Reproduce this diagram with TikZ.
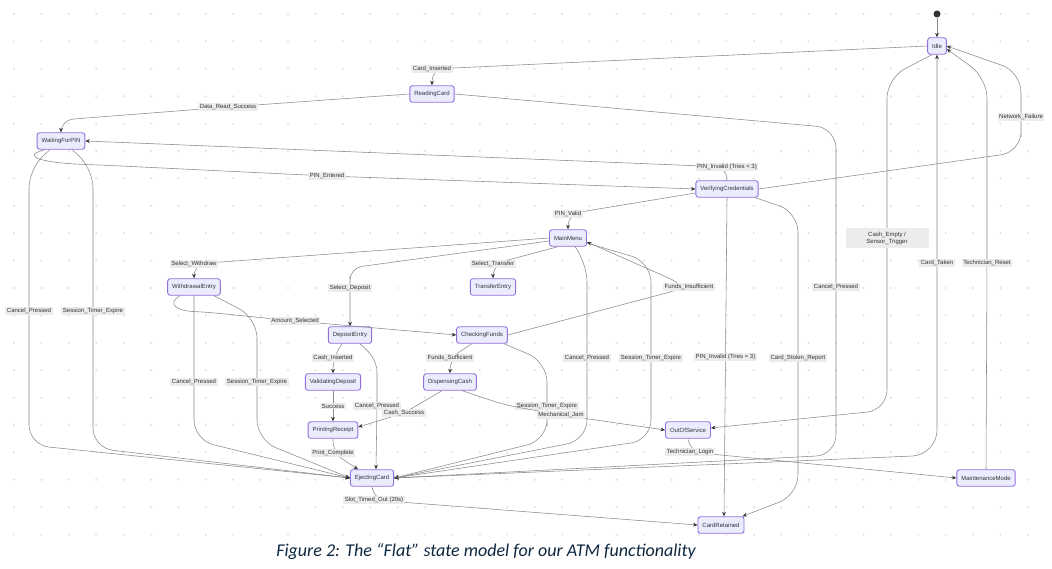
\documentclass[tikz,border=0pt]{standalone}
\usepackage{fontspec}
\setmainfont{Liberation Sans}
\newfontfamily\captionfont{Carlito}
\usepackage{tikz}
\usetikzlibrary{arrows.meta,positioning}
\usepackage{xcolor}
\definecolor{stateFill}{HTML}{ECECFF}
\definecolor{stateLine}{HTML}{9370DB}
\definecolor{edgeGrey}{HTML}{8A8A8A}
\definecolor{inkDark}{HTML}{333333}
\definecolor{lblGrey}{HTML}{ECECEC}
\definecolor{dotGrey}{HTML}{DDDDDD}
\definecolor{captionBlue}{HTML}{0E2841}

\begin{document}
\begin{tikzpicture}[
  x=1pt, y=-1pt,
  stateBox/.style={draw=stateLine, fill=stateFill, rounded corners=2.5pt, line width=0.9pt, minimum height=16.5pt, inner xsep=4.5pt, inner ysep=0pt, font=\fontsize{6}{7}\selectfont, text=inkDark},
  lbl/.style={fill=lblGrey, sharp corners, inner xsep=1.5pt, inner ysep=1.2pt, font=\fontsize{6}{7}\selectfont, text=inkDark, align=center},
  arr/.style={-{Stealth[length=4.5pt,width=3.8pt,color=inkDark]}, draw=edgeGrey, line width=0.55pt, rounded corners=12pt}
]
\useasboundingbox (0,0) rectangle (1052,569);
\fill[white] (0,0) rectangle (1052,569);
\foreach \i in {0,...,37}
  \foreach \j in {0,...,19}
    \fill[dotGrey] ({14+27.4*\i},{14+27.4*\j}) circle (1.1pt);

\node[circle, fill=inkDark, inner sep=0pt, minimum size=7pt] (start) at (937,14) {};
\node[stateBox] (idle) at (937,46) {Idle};
\node[stateBox] (readingCard) at (432,94) {ReadingCard};
\node[stateBox] (waitingPin) at (61,141) {WaitingForPIN};
\node[stateBox] (verifyCred) at (727,189) {VerifyingCredentials};
\node[stateBox] (mainMenu) at (568,238) {MainMenu};
\node[stateBox] (withdrawEntry) at (194,287) {WithdrawalEntry};
\node[stateBox] (transferEntry) at (493,287) {TransferEntry};
\node[stateBox] (depositEntry) at (350,335) {DepositEntry};
\node[stateBox] (checkFunds) at (482,335) {CheckingFunds};
\node[stateBox] (validDeposit) at (333,382) {ValidatingDeposit};
\node[stateBox] (dispenseCash) at (450,382) {DispensingCash};
\node[stateBox] (printReceipt) at (333,430) {PrintingReceipt};
\node[stateBox] (ejectCard) at (372,478) {EjectingCard};
\node[stateBox] (outOfService) at (688,430) {OutOfService};
\node[stateBox] (maintMode) at (986,478) {MaintenanceMode};
\node[stateBox] (cardRetained) at (721,525) {CardRetained};

\draw[arr] (start) -- (idle);
\draw[arr] (idle.west) -- (432,69) node[lbl]{Card\_Inserted} -- (readingCard.north);
\draw[arr] (readingCard.west) -- (228,107) node[lbl]{Data\_Read\_Success} -- (61,120) -- (waitingPin.north);
\draw[arr, rounded corners=20pt] (readingCard.east) -- (836,128) -- (836,287) node[lbl]{Cancel\_Pressed} -- (836,455) -- (ejectCard.east);
\draw[arr] ([xshift=-16pt]waitingPin.south) .. controls (20,156) and (40,163) .. (100,165) -- (327,176) node[lbl]{PIN\_Entered} -- (verifyCred.west);
\draw[arr] (verifyCred.north) -- (727,167) node[lbl]{PIN\_Invalid (Tries < 3)} -- (waitingPin.east);
\draw[arr, rounded corners=20pt] ([xshift=-11pt]waitingPin.south) -- (29,168) -- (29,311) node[lbl]{Cancel\_Pressed} -- (29,445) -- (ejectCard.west);
\draw[arr, rounded corners=20pt] ([xshift=11pt]waitingPin.south) -- (93,168) -- (93,311) node[lbl]{Session\_Timer\_Expire} -- (93,448) -- (ejectCard.west);
\draw[arr] ([yshift=-4pt]verifyCred.west) -- (568,214) node[lbl]{PIN\_Valid} -- (mainMenu.north);
\draw[arr] (verifyCred.south) -- node[lbl]{PIN\_Invalid (Tries = 3)} ([xshift=3pt]cardRetained.north);
\draw[arr, rounded corners=20pt] ([xshift=28pt]verifyCred.south) -- (798,212) -- (798,358) node[lbl]{Card\_Stolen\_Report} -- (798,495) -- ([xshift=-2pt]cardRetained.north east);
\draw[arr, rounded corners=20pt] (verifyCred.east) -- (1021,152) -- (1021,117) node[lbl]{Network\_Failure} -- (1021,72) -- (idle.east);
\draw[arr] (mainMenu.west) -- (194,264) node[lbl]{Select\_Withdraw} -- (withdrawEntry.north);
\draw[arr] ([yshift=-3pt]mainMenu.west) -- (350,268) -- (350,288) node[lbl]{Select\_Deposit} -- (depositEntry.north);
\draw[arr] ([xshift=-10pt]mainMenu.south) -- (493,264) node[lbl]{Select\_Transfer} -- (transferEntry.north);
\draw[arr, rounded corners=20pt] ([xshift=7pt]mainMenu.south) -- (587,262) -- (587,358) node[lbl]{Cancel\_Pressed} -- (587,440) -- (ejectCard.east);
\draw[arr, rounded corners=20pt] ([yshift=-5pt]mainMenu.east) -- (651,262) -- (651,358) node[lbl]{Session\_Timer\_Expire} -- (651,440) -- (ejectCard.east);
\draw[arr, rounded corners=20pt] (checkFunds.east) -- (689,287) node[lbl]{Funds\_Insufficient} -- ([yshift=-4pt]mainMenu.east);
\draw[arr] ([xshift=-14pt]withdrawEntry.south) .. controls (165,305) and (180,311) .. (205,312) -- (295,321) node[lbl]{Amount\_Selected} -- (checkFunds.west);
\draw[arr, rounded corners=20pt] (withdrawEntry.south) -- (194,382) node[lbl]{Cancel\_Pressed} -- (194,440) -- (ejectCard.west);
\draw[arr, rounded corners=20pt] ([xshift=20pt]withdrawEntry.south) -- (257,318) -- (257,382) node[lbl]{Session\_Timer\_Expire} -- (257,440) -- (ejectCard.west);
\draw[arr] ([xshift=-10pt]checkFunds.south) -- (450,358) node[lbl]{Funds\_Sufficient} -- (dispenseCash.north);
\draw[arr, rounded corners=20pt] ([xshift=22pt]checkFunds.south) -- (547,362) -- (547,406) node[lbl]{Session\_Timer\_Expire} -- (547,440) -- (ejectCard.east);
\draw[arr] ([xshift=-8pt]depositEntry.south) -- (333,358) node[lbl]{Cash\_Inserted} -- (validDeposit.north);
\draw[arr] ([xshift=10pt]depositEntry.south) -- (377,360) -- (377,406) node[lbl]{Cancel\_Pressed} -- ([xshift=4pt]ejectCard.north);
\draw[arr] (validDeposit) -- node[lbl]{Success} (printReceipt);
\draw[arr] ([xshift=-8pt]dispenseCash.south) -- (404,413) node[lbl]{Cash\_Success} -- ([yshift=3pt]printReceipt.east);
\draw[arr] ([xshift=12pt]dispenseCash.south) -- (505,405) -- (561,415) node[lbl]{Mechanical\_Jam} -- (outOfService.west);
\draw[arr] (printReceipt.south) -- (333,453) node[lbl]{Print\_Complete} -- ([xshift=-14pt]ejectCard.north);
\draw[arr] (ejectCard.south) -- (374,500) node[lbl]{Slot\_Timed\_Out (20s)} -- (cardRetained.west);
\draw[arr, rounded corners=25pt] (ejectCard.east) -- (937,455) -- (937,263) node[lbl]{Card\_Taken} -- (idle.south);
\draw[arr, rounded corners=20pt] ([xshift=-5pt]idle.south) -- (887,78) -- (887,238) node[lbl, minimum width=83pt, minimum height=20pt]{Cash\_Empty /\\Sensor\_Trigger} -- (887,410) -- ([yshift=2pt]outOfService.east);
\draw[arr] (outOfService.south) -- (690,452) node[lbl]{Technician\_Login} -- (maintMode.west);
\draw[arr, rounded corners=20pt] (maintMode.north) -- (987,263) node[lbl]{Technician\_Reset} -- (987,78) -- ([yshift=-3pt]idle.east);

\node[font=\captionfont\itshape\fontsize{18}{20}\selectfont, text=captionBlue] (caption) at (486,552) {Figure 2: The “Flat” state model for our ATM functionality};
\end{tikzpicture}
\end{document}
